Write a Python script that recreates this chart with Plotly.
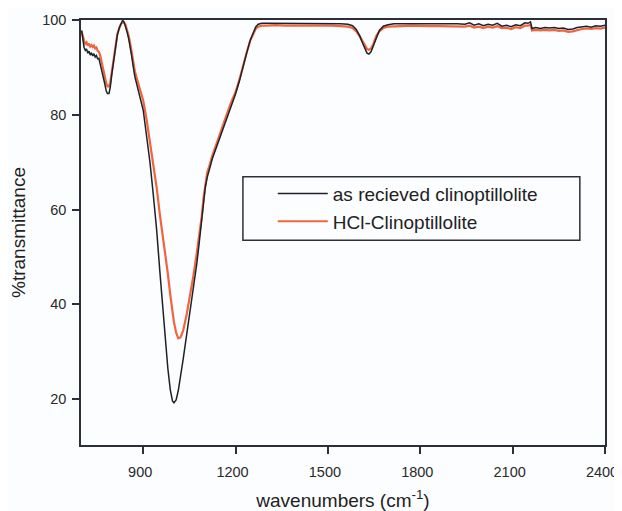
import plotly.graph_objects as go

# Wavenumbers (cm^-1)
wavenumbers = [
    700, 704, 708, 712, 716, 720, 724, 728, 732, 736,
    740, 744, 748, 752, 756, 760, 765, 770, 775, 780,
    784, 789, 793, 798, 804, 810, 816, 822, 828, 833,
    838, 843, 848, 853, 858, 863, 868, 873, 880, 887,
    893, 900, 911, 922, 933, 944, 954, 963, 971, 980,
    988, 995, 1000, 1007, 1014, 1021, 1030, 1041, 1052, 1063,
    1074, 1082, 1090, 1096, 1102, 1108, 1114, 1125, 1140, 1155,
    1170, 1185, 1200, 1212, 1224, 1236, 1248, 1258, 1266, 1274,
    1285, 1300, 1330, 1360, 1390, 1420, 1450, 1480, 1510, 1540,
    1565, 1580, 1592, 1603, 1612, 1620, 1627, 1633, 1640, 1648,
    1657, 1667, 1680, 1695, 1715, 1740, 1770, 1800, 1830, 1860,
    1890, 1920, 1945, 1960, 1975, 1990, 2005, 2020, 2035, 2050,
    2065, 2080, 2095, 2110, 2125, 2140, 2150, 2158, 2163, 2175,
    2190, 2205, 2220, 2235, 2250, 2265, 2280, 2295, 2310, 2325,
    2340, 2355, 2370, 2385, 2400,
]

# %transmittance, as received clinoptilolite
as_received = [
    97.8, 95.5, 94.2, 93.6, 93.9, 93.0, 93.4, 92.6, 93.1, 92.4,
    92.9, 92.2, 92.5, 91.8, 91.9, 90.8, 89.6, 88.2, 86.6, 85.0,
    84.5, 84.5, 85.8, 88.5, 91.6, 94.5, 96.8, 98.3, 99.4, 99.9,
    99.6, 98.6, 97.4, 96.0, 94.3, 92.2, 90.0, 88.0, 86.2, 84.6,
    82.8, 81.0, 76.0, 70.0, 63.0, 55.5, 47.0, 39.5, 33.0, 26.5,
    22.0, 19.6, 19.2, 19.8, 21.8, 24.5, 28.5, 33.5, 38.2, 43.0,
    48.5, 53.0, 57.5, 61.5, 64.8, 66.8, 68.2, 70.8, 73.5, 76.2,
    79.2, 81.9, 84.4, 87.0, 90.2, 93.0, 95.8, 97.6, 98.6, 99.1,
    99.3, 99.3, 99.3, 99.3, 99.2, 99.3, 99.3, 99.2, 99.3, 99.2,
    99.1, 98.8, 98.0, 96.7, 95.2, 93.9, 93.0, 92.8, 93.3, 94.6,
    96.3, 97.8, 98.7, 99.0, 99.2, 99.2, 99.3, 99.2, 99.2, 99.3,
    99.2, 99.2, 99.1, 99.4, 98.9, 99.2, 98.8, 99.1, 98.9, 99.3,
    98.7, 98.9, 98.6, 99.0, 98.8, 99.4, 99.3, 99.6, 98.2, 98.4,
    98.2, 98.4, 98.3, 98.4, 98.2, 98.3, 98.0, 98.1, 98.4, 98.6,
    98.7, 98.5, 98.8, 98.7, 98.9,
]

# %transmittance, HCl-treated clinoptilolite
hcl_treated = [
    97.6, 96.2, 95.6, 95.0, 95.3, 94.6, 95.0, 94.4, 94.7, 94.3,
    94.6, 94.0, 94.2, 93.5, 93.3, 92.6, 91.3, 89.9, 88.2, 86.6,
    86.0, 86.0, 86.8, 89.0, 92.0, 94.8, 97.0, 98.2, 99.2, 99.5,
    99.4, 98.9, 97.9, 96.6, 95.0, 93.0, 91.0, 89.2, 87.5, 86.0,
    84.3, 83.0, 79.0, 74.5, 69.5, 64.5, 59.0, 55.0, 51.0, 46.5,
    42.0, 38.0, 36.2, 34.0, 32.8, 33.0, 34.5, 37.8, 41.5, 46.0,
    50.8, 54.5, 58.5, 62.5, 65.8, 67.8, 69.0, 71.5, 74.2, 76.8,
    79.8, 82.5, 84.8, 87.3, 90.4, 93.1, 95.7, 97.3, 98.2, 98.6,
    98.8, 98.8, 98.9, 98.8, 98.8, 98.8, 98.9, 98.8, 98.8, 98.7,
    98.6, 98.3, 97.6, 96.6, 95.5, 94.5, 93.9, 93.7, 94.0, 95.0,
    96.6, 97.6, 98.3, 98.6, 98.7, 98.7, 98.8, 98.7, 98.7, 98.7,
    98.7, 98.6, 98.6, 98.8, 98.4, 98.6, 98.3, 98.6, 98.4, 98.7,
    98.3, 98.4, 98.1, 98.5, 98.3, 98.8, 98.8, 99.0, 97.8, 97.9,
    97.8, 97.9, 97.8, 97.9, 97.7, 97.8, 97.5, 97.6, 97.9, 98.1,
    98.2, 98.1, 98.3, 98.2, 98.4,
]

series_names = ["as recieved clinoptillolite", "HCl-Clinoptillolite"]
x_ticks = [900, 1200, 1500, 1800, 2100, 2400]
y_ticks = [20, 40, 60, 80, 100]

AX = "#2b3038"
FONT = "Arial, Liberation Sans, sans-serif"

fig = go.Figure()
fig.add_trace(go.Scatter(
    x=wavenumbers, y=hcl_treated, mode="lines", name=series_names[1],
    line=dict(color="#f0643f", width=2.2), legendrank=2,
))
fig.add_trace(go.Scatter(
    x=wavenumbers, y=as_received, mode="lines", name=series_names[0],
    line=dict(color="#1d2228", width=1.5), legendrank=1,
))

axis_common = dict(
    showline=True, linecolor=AX, linewidth=1.5, mirror=True,
    ticks="outside", ticklen=7, tickwidth=1.5, tickcolor=AX,
    showgrid=False, zeroline=False, automargin=False,
    tickfont=dict(family=FONT, size=14.5, color="#2a2a2a"),
)

fig.update_layout(
    width=614, height=503,
    margin=dict(l=73, r=17, t=12, b=66),
    paper_bgcolor="#fcfdff", plot_bgcolor="#fcfdff",
    font=dict(family=FONT, color="#222222"),
    xaxis=dict(range=[698, 2400], tickvals=x_ticks, ticklabelstandoff=6,
               ticklabelshift=-3, ticklabeloverflow="allow",
               title=dict(text="wavenumbers (cm<sup>-1</sup>)",
                          font=dict(family=FONT, size=19, color="#222222"),
                          standoff=19),
               **axis_common),
    yaxis=dict(range=[10.3, 100], tickvals=y_ticks, ticklabelstandoff=3,
               title=dict(text="%transmittance",
                          font=dict(family=FONT, size=19, color="#222222"),
                          standoff=16),
               **axis_common),
    showlegend=True,
    legend=dict(x=0.366, y=0.636, xanchor="left", yanchor="top",
                bgcolor="rgba(0,0,0,0)", borderwidth=0, itemwidth=50,
                font=dict(family=FONT, size=19, color="#222222"),
                tracegroupgap=0),
    shapes=[dict(type="rect", xref="paper", yref="paper",
                 x0=0.309, x1=0.952, y0=0.482, y1=0.631,
                 line=dict(color=AX, width=1.5), fillcolor="rgba(0,0,0,0)")],
)

fig.write_html("out.html")
